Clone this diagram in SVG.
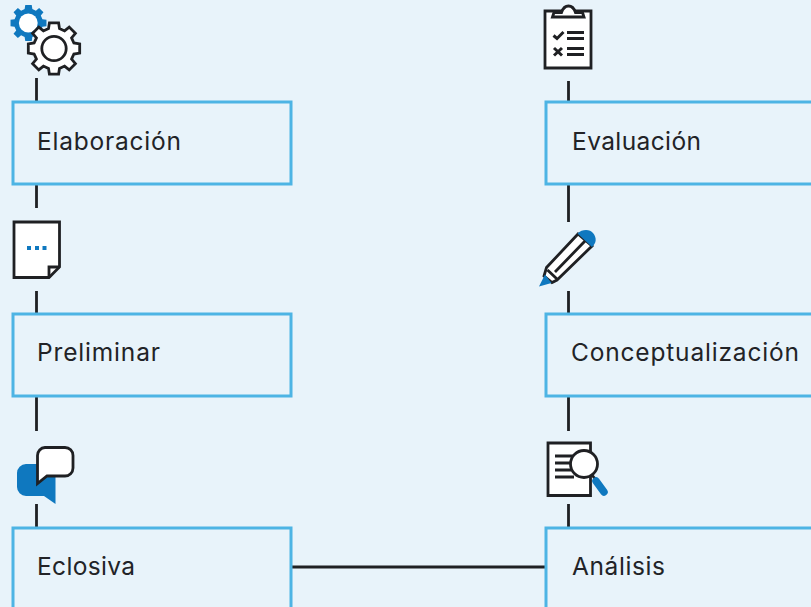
<svg xmlns="http://www.w3.org/2000/svg" width="811" height="607" viewBox="0 0 811 607">
<style>
.bg{fill:#e8f3fa}
.box{fill:#e8f3fa;stroke:#4db4e4;stroke-width:3}
.ln{fill:none;stroke:#1f2023;stroke-width:2.8}
.ic{fill:#fff;stroke:#1f2023;stroke-width:2.8;stroke-linejoin:miter}
.bl{fill:#0f78bf}
text{font-family:"Inter","Liberation Sans",sans-serif;font-size:24.5px;fill:#222327}
</style>
<defs>
<path id="gear" d="M-5.5-19.89L-4.6-25.68H4.6L5.5-19.89L10.56-17.57L15.2-21.4L21.4-15.2L17.57-10.56L19.89-5.5L25.68-4.6V4.6L19.89 5.5L17.57 10.56L21.4 15.2L15.2 21.4L10.56 17.57L5.5 19.89L4.6 25.68H-4.6L-5.5 19.89L-10.56 17.57L-15.2 21.4L-21.4 15.2L-17.57 10.56L-19.89 5.5L-25.68 4.6V-4.6L-19.89-5.5L-17.57-10.56L-21.4-15.2L-15.2-21.4L-10.56-17.57Z"/>
</defs>
<rect class="bg" width="811" height="607"/>
<g id="connectors">
<path class="ln" d="M36.500 78V102M36.500 184V208M36.500 291V314M36.500 396V431M36.500 504V528M568.500 81V102M568.500 184V222M568.500 291V314M568.500 396V431M568.500 504V528M291 567H546"/>
</g>
<g id="node-elaboracion"><rect class="box" x="13" y="102" width="278" height="82"/><text x="37" y="150" textLength="144">Elaboración</text></g>
<g id="node-preliminar"><rect class="box" x="13" y="314" width="278" height="82"/><text x="37" y="361" textLength="123">Preliminar</text></g>
<g id="node-eclosiva"><rect class="box" x="13" y="528" width="278" height="90"/><text x="37" y="575" textLength="98">Eclosiva</text></g>
<g id="node-evaluacion"><rect class="box" x="546" y="102" width="278" height="82"/><text x="572" y="150" textLength="129">Evaluación</text></g>
<g id="node-conceptualizacion"><rect class="box" x="546" y="314" width="278" height="82"/><text x="571" y="361" textLength="228">Conceptualización</text></g>
<g id="node-analisis"><rect class="box" x="546" y="528" width="278" height="90"/><text x="572" y="575" textLength="93">Análisis</text></g>
<g id="icon-gears">
<use href="#gear" class="bl" transform="translate(28.500 23) scale(.7)"/>
<circle cx="28.300" cy="23" r="9.400" fill="#fff"/>
<use href="#gear" class="ic" transform="translate(54 48.500)"/>
<circle cx="54" cy="48.500" r="12.200" class="ic"/>
</g>
<g id="icon-note">
<path class="ic" d="M14 222H59.500V267L49 277.500H14Z"/>
<path class="ln" d="M49 277.500V267H59.500"/>
<path class="bl" d="M27 246h4v4h-4zM35 246h4v4h-4zM42.500 246h4v4h-4z"/>
</g>
<g id="icon-chat">
<path class="bl" d="M26 464H55.500V504L44 496H26A9 9 0 0 1 17 487V473A9 9 0 0 1 26 464Z"/>
<path class="ic" d="M45 447.500H65A8 8 0 0 1 73 455.500V468A8 8 0 0 1 65 476H47L37.500 483.500V455.500A8 8 0 0 1 45 447.500Z"/>
</g>
<g id="icon-clipboard">
<path class="ic" d="M545 11H591V68H545Z"/>
<path class="ic" d="M552.500 17L554 12.500H561.500C563 8 565 6 568.500 6S574 8 575.500 12.500H582.500L584 17Z"/>
<path class="ln" d="M567 32.500H584M567 38.500H584M567 48.500H584M567 54.500H584"/>
<path class="ln" style="stroke-width:3" d="M553.500 35.500L557 38.500L563.500 32M554 48L562 55.500M562 48L554 55.500"/>
</g>
<g id="icon-pencil">
<path class="ic" d="M546.500 267.500L578 234L592 246L557 280L552 282.500L544 276Z"/>
<path class="ln" d="M555 272L585 241M547.500 270L557 279"/>
<path class="bl" d="M577.500 233.500C582 229 590 229 593 233C597 238 596.500 243 592 247Z"/>
<path class="bl" d="M545 274.500L551.500 283L539 286.500Z"/>
</g>
<g id="icon-analysis">
<path class="ic" d="M548 443H590.500V495.500H548Z"/>
<path class="ln" d="M555 456H574M555 463H571M555 470H571M555 477H574"/>
<path class="ln" d="M592 475L596 480"/>
<path d="M596 481L604 492" fill="none" stroke="#0f78bf" stroke-width="7.500" stroke-linecap="round"/>
<circle cx="584" cy="464" r="13.500" class="ic"/>
</g>
</svg>
